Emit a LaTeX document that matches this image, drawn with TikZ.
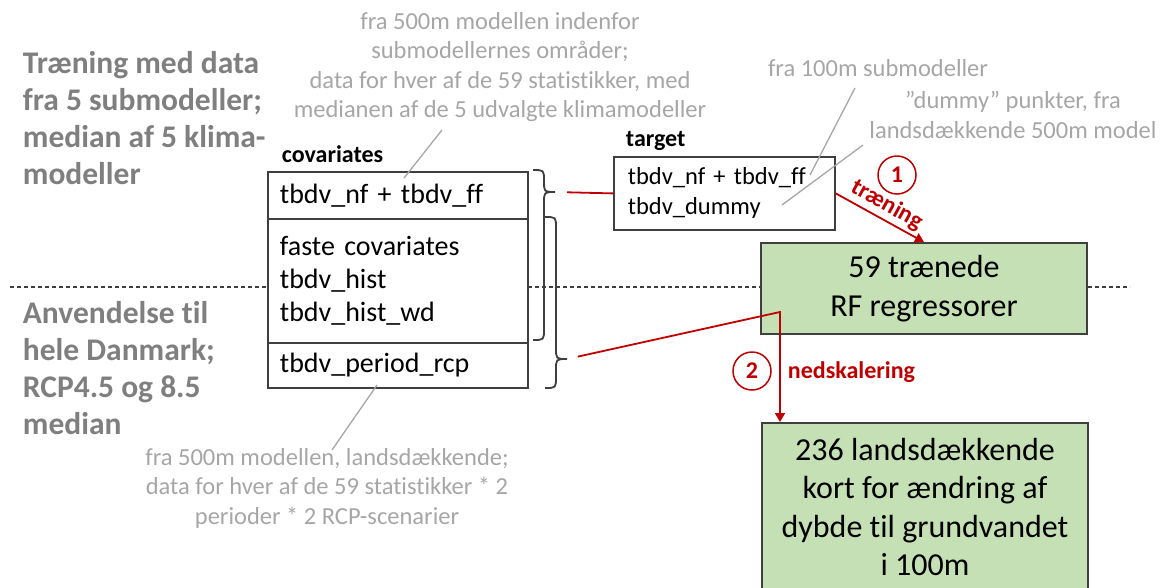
\documentclass[tikz,border=0pt]{standalone}
\usepackage{fontspec}
\setmainfont{Carlito}[Ligatures=NoCommon]
\usetikzlibrary{arrows.meta}
\definecolor{boxgreen}{HTML}{C5E0B4}
\definecolor{darkred}{HTML}{C00000}
\definecolor{notegray}{HTML}{A6A6A6}
\definecolor{headgray}{HTML}{7F7F7F}
\definecolor{edgegray}{HTML}{3F3F3F}

\begin{document}
\begin{tikzpicture}[x=1pt,y=-1pt,line width=1.8pt,>={Triangle[width=10pt,length=9pt]},
  cell/.style={draw=edgegray,fill=white,anchor=north west,inner xsep=12pt,inner ysep=0pt,
    text width=236pt,align=left,font=\fontsize{28}{33}\selectfont},
  rfbox/.style={draw=edgegray,fill=boxgreen,align=center,minimum width=326pt,
    font=\fontsize{32}{38.5}\selectfont},
  head/.style={anchor=west,align=left,inner sep=0pt,text=headgray,
    font=\bfseries\fontsize{31.5}{37}\selectfont},
  note/.style={align=center,inner sep=0pt,text=notegray,font=\fontsize{24.5}{29.5}\selectfont},
  noteline/.style={draw=notegray,line width=1.3pt},
  label/.style={anchor=west,inner sep=0pt,font=\bfseries\fontsize{24}{28}\selectfont},
  redlbl/.style={inner sep=0pt,text=darkred,font=\bfseries\fontsize{24}{28}\selectfont},
  num/.style={circle,draw=darkred,line width=1.5pt,minimum size=38pt,inner sep=0pt,
    text=darkred,font=\bfseries\fontsize{24}{28}\selectfont},
  brace/.style={draw=edgegray,line width=1.8pt},
  flow/.style={draw=darkred,line width=1.8pt}]
\useasboundingbox (0,0) rectangle (1167,587);
% split between training and application
\draw[edgegray,line width=1.5pt,dash pattern=on 4pt off 3pt] (10,287) -- (1130,287);
% left headings
\node[head] (train) at (22,118) {Træning med data\\fra 5 submodeller;\\median af 5 klima-\\modeller};
\node[head] (apply) at (22,368) {Anvendelse til\\hele Danmark;\\RCP4.5 og 8.5\\median};
% covariates table
\node[label] (covlbl) at (281,154) {covariates};
\node[cell,minimum height=47pt] (nf) at (267,171) {tbdv\_nf + tbdv\_ff};
\node[cell,minimum height=124pt] (fixed) at (267,218) {faste covariates\\tbdv\_hist\\tbdv\_hist\_wd};
\node[cell,minimum height=45pt] (rcp) at (267,342) {tbdv\_period\_rcp};
% target table
\node[label] (tgtlbl) at (625,141) {target};
\node[cell,minimum height=73pt,text width=193pt,inner xsep=14pt,
  font=\fontsize{24.5}{30}\selectfont] (target) at (613,156) {tbdv\_nf + tbdv\_ff\\tbdv\_dummy};
% braces
\draw[brace] (533,170) .. controls (544,170) .. (544,181) .. controls (544,192) .. (555,192) coordinate (tipA)
  .. controls (544,192) .. (544,203) -- (544,329) .. controls (544,340) .. (533,340);
\draw[brace] (545,217) .. controls (556,217) .. (556,228) -- (556,348) .. controls (556,359) .. (567,359) coordinate (tipB)
  .. controls (556,359) .. (556,370) -- (556,377) .. controls (556,388) .. (545,388);
% green results
\node[rfbox,minimum height=91pt] (rf) at (924,288.5) {59 trænede\\RF regressorer};
\node[rfbox,minimum height=168pt,anchor=north] (maps) at (925,422) {236 landsdækkende\\kort for ændring af\\dybde til grundvandet\\i 100m};
% red flow
\draw[flow,shorten <=12pt] (tipA) -- (target.west);
\draw[flow,->] (target.east) -- node[redlbl,midway,sloped,above=3pt] {træning} (rf.north);
\coordinate (bend) at (780,312);
\draw[flow,->,shorten <=11pt] (tipB) -- (bend) -- (bend |- maps.north);
\node[num] (one) at (897,175) {1};
\node[num] (two) at (752,371) {2};
\node[redlbl,anchor=west] (ned) at (787,372) {nedskalering};
% gray notes
\node[note] (topnote) at (500,67) {fra 500m modellen indenfor\\submodellernes områder;\\data for hver af de 59 statistikker, med\\medianen af de 5 udvalgte klimamodeller};
\node[note] (subnote) at (878,68) {fra 100m submodeller};
\node[note] (dumnote) at (1013,115) {”dummy” punkter, fra\\landsdækkende 500m model};
\node[note] (botnote) at (327,488) {fra 500m modellen, landsdækkende;\\data for hver af de 59 statistikker * 2\\perioder * 2 RCP-scenarier};
\coordinate (p1) at (442,130); \coordinate (q1) at (404,178);
\coordinate (p2) at (855,88);  \coordinate (q2) at (810,175);
\coordinate (p3) at (863,145); \coordinate (q3) at (782,205);
\coordinate (p4) at (377,385); \coordinate (q4) at (332,450);
\draw[noteline] (p1) -- (q1);
\draw[noteline] (p2) -- (q2);
\draw[noteline] (p3) -- (q3);
\draw[noteline] (p4) -- (q4);
\end{tikzpicture}
\end{document}
